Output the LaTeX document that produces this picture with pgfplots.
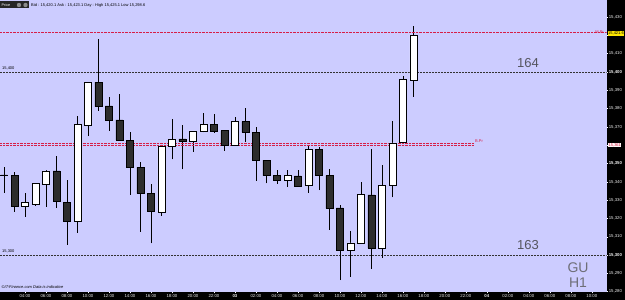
\documentclass[border=0pt]{standalone}
\usepackage{pgfplots}
\pgfplotsset{compat=1.18}
\usepackage{pgfplotstable}
\usepackage{fontspec}
\setmainfont{Liberation Sans}
\definecolor{lav}{RGB}{204,204,255}
\definecolor{bear}{RGB}{45,45,45}
\definecolor{mpr}{RGB}{215,30,70}
\definecolor{anno}{RGB}{85,85,95}

\pgfplotstableread{
h o hi lo c
2 15343.8 15348.1 15333.9 15343.6
3 15343.7 15345.4 15323.5 15326.4
4 15326.4 15333.9 15320.8 15328.6
5 15327.9 15339.5 15327.0 15339.2
6 15338.8 15346.2 15326.4 15345.9
7 15345.9 15354.3 15325.8 15329.1
8 15328.8 15341.0 15305.5 15318.2
9 15318.2 15376.1 15312.2 15371.4
10 15370.7 15394.6 15365.0 15394.4
11 15394.4 15418.0 15378.7 15381.0
12 15381.4 15386.5 15367.8 15373.8
13 15373.8 15388.0 15362.3 15362.8
14 15362.8 15367.0 15332.8 15347.7
15 15347.9 15350.7 15312.7 15333.7
16 15333.7 15338.8 15306.4 15323.7
17 15323.1 15359.5 15321.5 15359.2
18 15359.6 15374.3 15352.3 15363.2
19 15363.4 15371.0 15346.8 15362.1
20 15361.9 15368.0 15356.4 15367.8
21 15367.4 15377.8 15367.0 15371.4
22 15371.4 15377.0 15366.8 15367.8
23 15367.9 15368.0 15357.0 15360.1
24 15360.1 15375.6 15360.0 15372.8
25 15372.8 15380.5 15361.9 15367.0
26 15367.0 15369.8 15340.6 15351.9
27 15351.9 15352.0 15339.2 15343.3
28 15343.3 15346.4 15338.8 15341.0
29 15340.6 15346.4 15337.3 15343.3
30 15343.2 15346.4 15337.5 15337.7
31 15338.1 15359.6 15334.0 15357.8
32 15357.8 15359.2 15335.5 15343.3
33 15343.3 15346.8 15313.7 15325.5
34 15325.8 15327.3 15286.3 15302.7
35 15302.7 15313.1 15288.0 15306.7
36 15306.7 15339.9 15306.5 15333.2
37 15332.8 15357.9 15292.6 15303.7
38 15303.6 15349.2 15298.6 15338.0
39 15338.3 15373.2 15331.5 15361.2
40 15361.6 15397.8 15361.5 15396.0
41 15395.6 15425.1 15386.5 15420.1
}\candles

\begin{document}
\begin{tikzpicture}[x=1pt,y=1pt]
\useasboundingbox (0,-8) rectangle (625,292);
\fill[black] (0,-8) rectangle (625,0);
\fill[black] (606.5,-8) rectangle (625,292);
\begin{axis}[
  at={(0,0)}, anchor=south west, scale only axis,
  width=606.5pt, height=292pt,
  xmin=1.62, xmax=59.4, ymin=15279.8, ymax=15439.3,
  axis background/.style={fill=lav},
  axis line style={draw=none},
  xtick={4,6,...,58},
  xticklabels={04:00,06:00,08:00,10:00,12:00,14:00,16:00,18:00,20:00,22:00,\textbf{03},02:00,04:00,06:00,08:00,10:00,12:00,14:00,16:00,18:00,20:00,22:00,\textbf{04},02:00,04:00,06:00,08:00,10:00},
  ytick={15280,15290,...,15430},
  yticklabels={{15,280},{15,290},{\textbf{15,300}},{15,310},{15,320},{15,330},{15,340},{\textbf{15,350}},{},{15,370},{15,380},{15,390},{\textbf{15,400}},{15,410},{},{15,430}},
  xtick pos=lower, ytick pos=right, yticklabel pos=right,
  tick align=outside, major tick length=1.5pt,
  tick style={white, line width=0.4pt},
  xticklabel style={font=\fontsize{4.3}{5}\selectfont, text=white!92!black, inner sep=0.6pt},
  yticklabel style={font=\fontsize{4.3}{5}\selectfont, text=white!92!black, inner sep=0.6pt},
  clip=true,
]
\draw[black!80, dash pattern=on 0.7pt off 0.8pt, line width=0.45pt] (axis cs:1.62,15400) -- (axis cs:59.4,15400);
\draw[black!80, dash pattern=on 0.7pt off 0.8pt, line width=0.45pt] (axis cs:1.62,15300) -- (axis cs:59.4,15300);
\addplot[draw=none, mark=none, forget plot,
  error bars/.cd, y dir=plus, y explicit, error mark=none,
  error bar style={draw=black, line width=0.7pt, solid}]
  table[x=h, y=lo, y error expr=\thisrow{hi}-\thisrow{lo}] {\candles};
\end{axis}
\begin{axis}[
  at={(0,0)}, anchor=south west, scale only axis,
  width=606.5pt, height=292pt,
  xmin=1.62, xmax=59.4, ymin=15279.8, ymax=15439.3,
  hide axis, ybar stacked, bar width=0.66,
]
\addplot[draw=none, fill=none] table[x=h, y expr={min(\thisrow{o},\thisrow{c})}] {\candles};
\addplot[draw=black, fill=white, line width=0.5pt] table[x=h, y expr={\thisrow{c}>\thisrow{o} ? \thisrow{c}-\thisrow{o} : 0}] {\candles};
\addplot[draw=black, fill=bear, line width=0.5pt] table[x=h, y expr={\thisrow{o}>\thisrow{c} ? \thisrow{o}-\thisrow{c} : 0}] {\candles};
\draw[mpr, dash pattern=on 0.7pt off 0.7pt, line width=0.6pt] (axis cs:1.62,15421.6) -- (axis cs:59.4,15421.6);
\draw[mpr, dash pattern=on 0.7pt off 0.7pt, line width=0.6pt] (axis cs:1.62,15361.2) -- (axis cs:46.8,15361.2);
\draw[mpr, dash pattern=on 0.7pt off 0.7pt, line width=0.6pt] (axis cs:1.62,15359.8) -- (axis cs:46.8,15359.8);
\end{axis}
% annotations (pixel coordinates: x, 292-y)
\node[anchor=south west, inner sep=0pt, font=\fontsize{4}{4}\selectfont] at (2,221.5) {15,400};
\node[anchor=south west, inner sep=0pt, font=\fontsize{4}{4}\selectfont] at (2,38.5) {15,300};
\node[anchor=south east, inner sep=0pt, text=mpr, font=\fontsize{4}{4}\selectfont] at (604,258) {M.Pr};
\node[anchor=south west, inner sep=0pt, text=mpr, font=\fontsize{4}{4}\selectfont] at (475,149) {B.Pr};
\node[text=anno, font=\fontsize{13}{13}\selectfont] at (528,229) {164};
\node[text=anno, font=\fontsize{13}{13}\selectfont] at (528,47) {163};
\node[text=anno!85, font=\fontsize{14}{14}\selectfont] at (578,24) {GU};
\node[text=anno!85, font=\fontsize{14}{14}\selectfont] at (578,9) {H1};
\node[anchor=west, fill=yellow!90!orange, inner sep=0.5pt, font=\fontsize{4}{4}\selectfont] at (607.5,258.5) {15,421.6};
\node[anchor=west, fill=white!90!pink, text=mpr, inner sep=0.5pt, font=\fontsize{4}{4}\selectfont] at (608,147) {15,361};
\fill[black!85] (0,283.5) rectangle (29,290.5);
\node[anchor=west, text=white, inner sep=0pt, font=\fontsize{3.8}{4}\selectfont] at (1.5,287) {Price};
\fill[black!45] (19,287) circle (2.2);
\fill[black!45] (25.5,287) circle (2.2);
\node[anchor=west, inner sep=0pt, font=\fontsize{4}{4}\selectfont] at (31,287) {Bid : 15,420.1  Ask : 15,423.1  Day : High 15,425.1  Low 15,298.6};
\node[anchor=west, inner sep=0pt, font=\fontsize{4}{4}\itshape] at (1.5,4.5) {©IT-Finance.com  Data is indicative};
\end{tikzpicture}
\end{document}
